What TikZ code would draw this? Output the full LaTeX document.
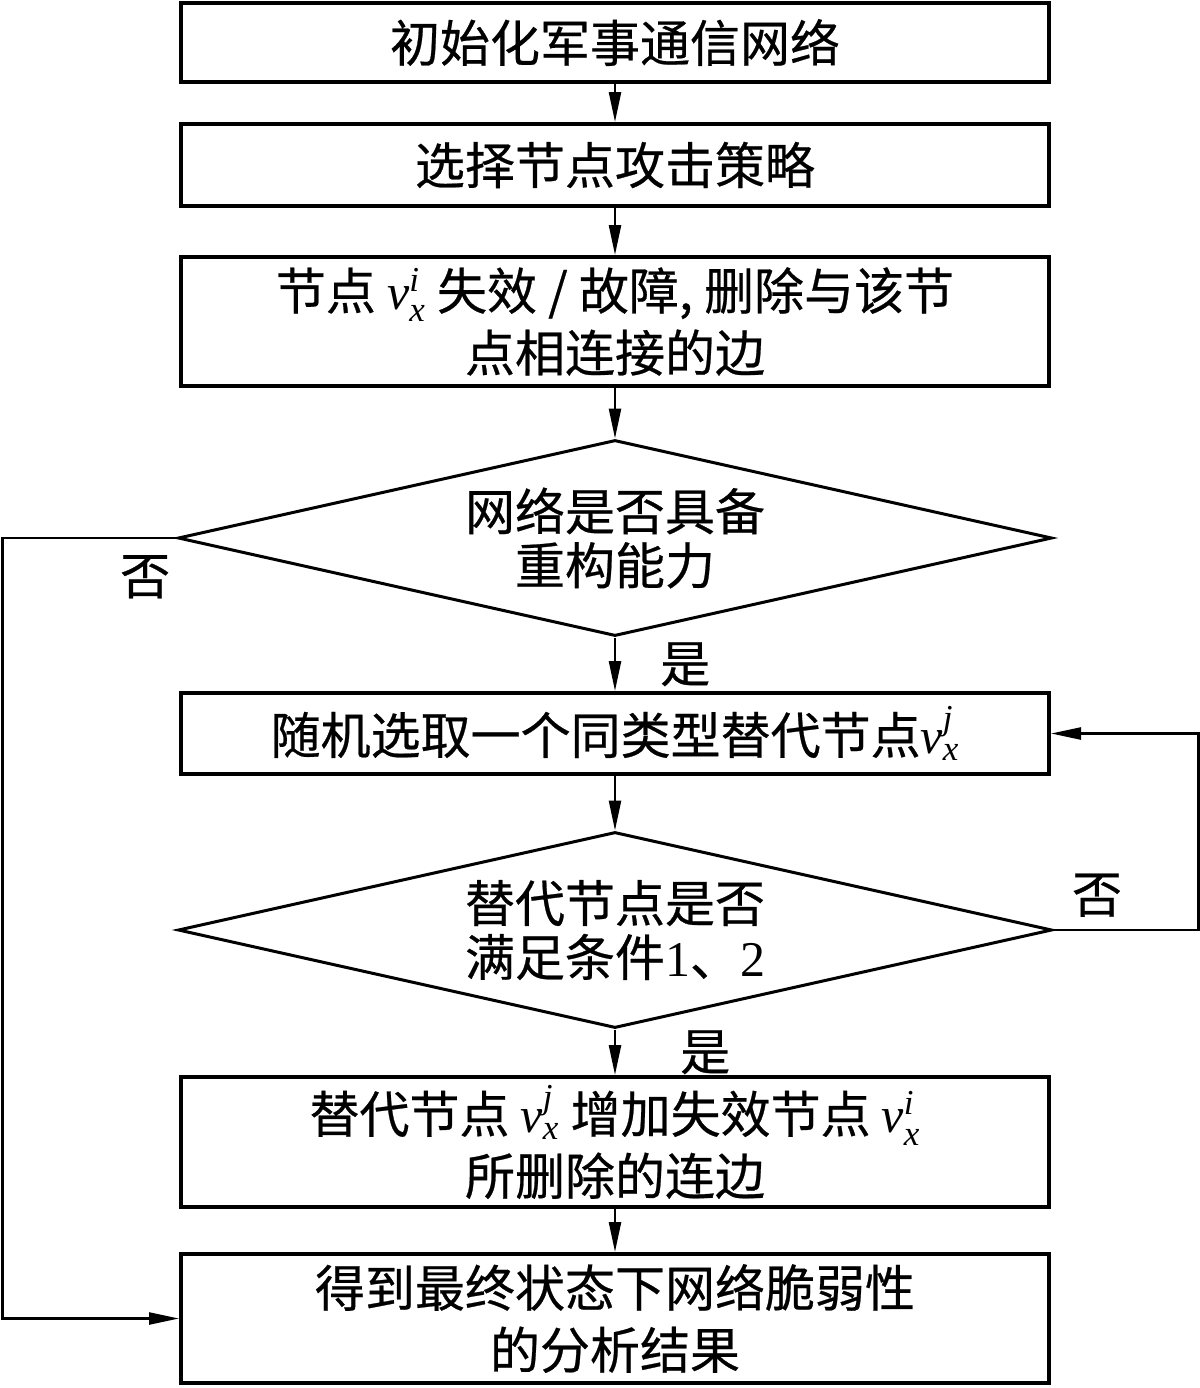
\documentclass[tikz,border=0pt]{standalone}
\usepackage{amsmath}
\usepackage{fontspec}
\setmainfont{Liberation Serif}
\newfontfamily\cjk[FakeBold=0.5]{Noto Sans CJK SC}
\usetikzlibrary{shapes.geometric,arrows.meta,positioning}
\newcommand\itrm[1]{\text{\rmfamily\itshape #1}}
\newcommand\vx[1]{$\itrm{v}_{\itrm{x}}^{\itrm{#1}}$}
\tikzset{box/.style={draw, line width=2pt, minimum width=434pt, inner sep=0pt, align=center, font=\cjk\fontsize{25pt}{31pt}\selectfont},
         decide/.style={draw, diamond, aspect=4.46, line width=1.5pt, minimum width=437pt, minimum height=98pt, inner sep=0pt, align=center, font=\cjk\fontsize{25pt}{27pt}\selectfont},
         arr/.style={line width=1.2pt, -{Triangle[length=15pt,width=6pt]}},
         lbl/.style={inner sep=0pt, font=\cjk\fontsize{25pt}{25pt}\selectfont}}

\begin{document}
\begin{tikzpicture}[x=0.5pt,y=-0.5pt]
  \useasboundingbox (0,0) rectangle (1200,1388);
  % steps and decisions
  \node[box, minimum height=39.5pt] (init) at (615,42.5) {初始化军事通信网络};
  \node[box, minimum height=41pt] (strat) at (615,165) {选择节点攻击策略};
  \node[box, minimum height=64.5pt] (fail) at (615,321.5) {节点 \vx{i} 失效 / 故障, 删除与该节\\点相连接的边};
  \node[decide] (recon) at (615,538) {网络是否具备\\重构能力};
  \node[box, minimum height=40.5pt] (pick) at (615,733.5) {随机选取一个同类型替代节点\vx{j}};
  \node[decide] (cond) at (615,930) {替代节点是否\\满足条件\textrm{1}、\textrm{2}};
  \node[box, minimum height=65pt] (add) at (615,1142) {替代节点 \vx{j} 增加失效节点 \vx{i}\\所删除的连边};
  \node[box, minimum height=64.5pt] (res) at (615,1318.5) {得到最终状态下网络脆弱性\\的分析结果};
  % connectors
  \draw[arr] (init) -- (strat);
  \draw[arr] (strat) -- (fail);
  \draw[arr] (fail) -- (recon);
  \draw[arr] (recon) -- node[lbl, right=22pt] {是} (pick);
  \draw[arr] (pick) -- (cond);
  \draw[arr] (cond) -- node[lbl, right=32pt] {是} (add);
  \draw[arr] (recon.west) -- node[lbl, pos=0.18, below=8pt] {否} ++(-174,0) |- (res.west);
  \draw[arr] (cond.east) -- node[lbl, pos=0.3, above=6pt] {否} ++(145,0) |- (pick.east);
  \draw[arr] (add) -- (res);
\end{tikzpicture}
\end{document}
